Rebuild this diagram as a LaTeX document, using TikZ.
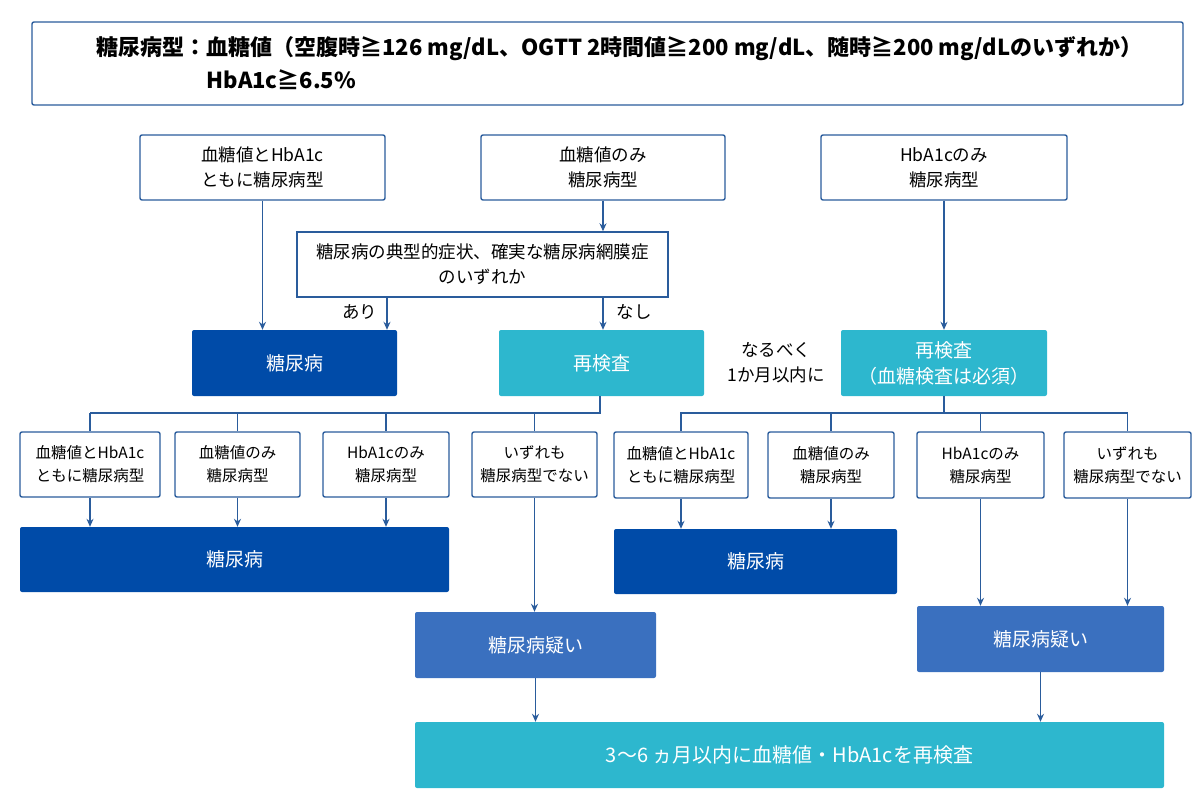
\documentclass[tikz,border=0pt]{standalone}
\usepackage{fontspec}
\setmainfont{Noto Sans CJK JP}
\usetikzlibrary{arrows.meta}
\definecolor{dkblue}{HTML}{004BA8}
\definecolor{teal}{HTML}{2DB7CE}
\definecolor{mdblue}{HTML}{3A70BF}
\definecolor{edge}{HTML}{2A5C9C}
\begin{document}
\begin{tikzpicture}[x=1pt,y=-1pt,
    wbox/.style={draw=edge,line width=1.4pt,rounded corners=2pt,fill=white,align=center,inner sep=0pt,font=\fontsize{17.5}{25}\selectfont},
    sbox/.style={wbox,font=\fontsize{15.5}{23}\selectfont},
    dbox/.style={fill=dkblue,rounded corners=2pt,text=white,align=center,font=\fontsize{19}{26}\selectfont},
    tbox/.style={dbox,fill=teal},
    mbox/.style={dbox,fill=mdblue},
    lbl/.style={font=\fontsize{17.5}{25}\selectfont,align=center},
    hlbl/.style={font=\fontsize{22}{28}\bfseries},
    line/.style={draw=edge,line width=1.3pt},
    arr/.style={line,-{Stealth[length=8pt,width=7pt]}}]
    \useasboundingbox (0,0) rectangle (1200,800);
    % header
    \node[wbox,minimum width=1151,minimum height=83] (head) at (607.5,63.5) {};
    \node[hlbl,anchor=west] (h1) at (93,49) {糖尿病型：血糖値（空腹時≧126 mg/dL、OGTT 2時間値≧200 mg/dL、随時≧200 mg/dLのいずれか）};
    \node[hlbl,anchor=west] (h2) at (203,80) {HbA1c≧6.5\%};
    % first row
    \node[wbox,minimum width=245,minimum height=65] (both) at (262.5,167.5) {血糖値とHbA1c\\ともに糖尿病型};
    \node[wbox,minimum width=244,minimum height=65] (glu) at (603,167.5) {血糖値のみ\\糖尿病型};
    \node[wbox,minimum width=246,minimum height=65] (hba) at (944,167.5) {HbA1cのみ\\糖尿病型};
    \node[wbox,rounded corners=0pt,minimum width=371,minimum height=65] (sym) at (482.5,264.5) {糖尿病の典型的症状、確実な糖尿病網膜症\\のいずれか};
    \node[dbox,minimum width=205,minimum height=66] (dm) at (294.5,363) {糖尿病};
    \node[tbox,minimum width=205,minimum height=66] (re1) at (601.5,363) {再検査};
    \node[tbox,minimum width=206,minimum height=66] (re2) at (944,363) {再検査\\（血糖検査は必須）};
    \node[lbl] (soon) at (776,363) {なるべく\\1か月以内に};
    \draw[arr] (glu) -- (glu|-sym.north);
    \draw[arr] (both) -- (both|-dm.north);
    \draw[arr] (hba) -- (hba|-re2.north);
    \coordinate (ari) at (387,297);
    \coordinate (nasi) at (603,297);
    \draw[arr] (ari) -- (ari|-dm.north) node[lbl,pos=0.45,left=6pt] {あり};
    \draw[arr] (nasi) -- (nasi|-re1.north) node[lbl,pos=0.45,right=10pt] {なし};
    % second row, left
    \node[sbox,minimum width=140,minimum height=65] (l1) at (90,464.5) {血糖値とHbA1c\\ともに糖尿病型};
    \node[sbox,minimum width=125,minimum height=65] (l2) at (237.5,464.5) {血糖値のみ\\糖尿病型};
    \node[sbox,minimum width=126,minimum height=65] (l3) at (386,464.5) {HbA1cのみ\\糖尿病型};
    \node[sbox,minimum width=125,minimum height=65] (l4) at (534.5,464.5) {いずれも\\糖尿病型でない};
    \coordinate (lbar) at (600,413);
    \draw[line] (re1.south-|lbar) -- (lbar) -- (90,413);
    \foreach \n in {l1,l2,l3,l4} \draw[line] (\n.north|-lbar) -- (\n.north);
    \node[dbox,minimum width=429,minimum height=65] (dmL) at (234.5,559.5) {糖尿病};
    \foreach \n in {l1,l2,l3} \draw[arr] (\n) -- (\n|-dmL.north);
    \node[mbox,minimum width=241,minimum height=66] (susL) at (535.5,645) {糖尿病疑い};
    \draw[arr] (l4) -- (l4|-susL.north);
    % second row, right
    \node[sbox,minimum width=134,minimum height=66] (r1) at (681,465) {血糖値とHbA1c\\ともに糖尿病型};
    \node[sbox,minimum width=126,minimum height=66] (r2) at (831,465) {血糖値のみ\\糖尿病型};
    \node[sbox,minimum width=127,minimum height=66] (r3) at (980.5,465) {HbA1cのみ\\糖尿病型};
    \node[sbox,minimum width=127,minimum height=66] (r4) at (1127.5,465) {いずれも\\糖尿病型でない};
    \coordinate (rbar) at (944,413);
    \draw[line] (re2.south-|rbar) -- (rbar) -- (r1.north|-rbar) -- (r1.north);
    \draw[line] (rbar) -- (r4.north|-rbar);
    \foreach \n in {r2,r3,r4} \draw[line] (\n.north|-rbar) -- (\n.north);
    \node[dbox,minimum width=283,minimum height=65] (dmR) at (755.5,561.5) {糖尿病};
    \foreach \n in {r1,r2} \draw[arr] (\n) -- (\n|-dmR.north);
    \node[mbox,minimum width=247,minimum height=66] (susR) at (1040.5,639) {糖尿病疑い};
    \foreach \n in {r3,r4} \draw[arr] (\n) -- (\n|-susR.north);
    % bottom
    \node[tbox,minimum width=749,minimum height=66,font=\fontsize{20}{26}\selectfont] (retest) at (789.5,755) {3〜6 ヵ月以内に血糖値・HbA1cを再検査};
    \draw[arr] (susL) -- (susL|-retest.north);
    \draw[arr] (susR) -- (susR|-retest.north);
\end{tikzpicture}
\end{document}
